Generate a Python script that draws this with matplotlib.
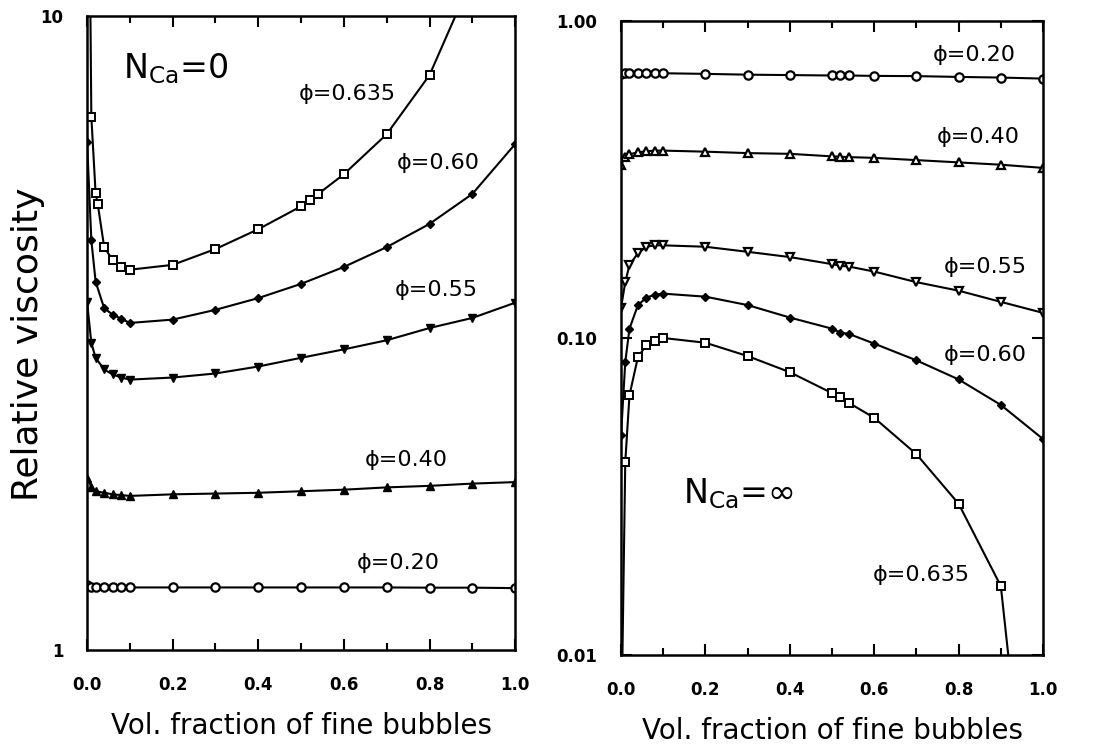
import matplotlib
matplotlib.use('Agg')
from matplotlib import pyplot as plt
from matplotlib.ticker import NullLocator, FixedLocator

# volume fraction of fine bubbles
x_left = [0.0, 0.01, 0.02, 0.04, 0.06, 0.08, 0.10, 0.2, 0.3, 0.4, 0.5, 0.6, 0.7, 0.8, 0.9, 1.0]
x_left_635 = [0.0, 0.01, 0.02, 0.025, 0.04, 0.06, 0.08, 0.10, 0.2, 0.3, 0.4, 0.5, 0.52, 0.54, 0.6, 0.7, 0.8, 0.9]
x_right = [0.0, 0.01, 0.02, 0.04, 0.06, 0.08, 0.10, 0.2, 0.3, 0.4, 0.5, 0.52, 0.54, 0.6, 0.7, 0.8, 0.9, 1.0]
x_right_635 = [0.0, 0.01, 0.02, 0.04, 0.06, 0.08, 0.10, 0.2, 0.3, 0.4, 0.5, 0.52, 0.54, 0.6, 0.7, 0.8, 0.9, 0.95]

# relative viscosity, N_Ca = 0
left_020 = [1.266, 1.258, 1.256, 1.255, 1.255, 1.255, 1.255, 1.255, 1.255, 1.255, 1.255, 1.255, 1.255, 1.254, 1.254, 1.252]
left_040 = [1.87, 1.81, 1.78, 1.77, 1.76, 1.755, 1.75, 1.76, 1.765, 1.77, 1.78, 1.79, 1.805, 1.815, 1.83, 1.84]
left_055 = [3.54, 3.05, 2.89, 2.77, 2.72, 2.69, 2.67, 2.69, 2.73, 2.80, 2.89, 2.98, 3.08, 3.22, 3.34, 3.53]
left_060 = [6.33, 4.43, 3.81, 3.46, 3.38, 3.33, 3.28, 3.32, 3.44, 3.59, 3.78, 4.02, 4.32, 4.70, 5.24, 6.28]
left_0635 = [40.0, 6.93, 5.25, 5.05, 4.32, 4.12, 4.02, 3.98, 4.05, 4.29, 4.61, 5.01, 5.13, 5.24, 5.63, 6.51, 8.07, 11.5]

# relative viscosity, N_Ca = infinity
right_020 = [0.681, 0.684, 0.684, 0.684, 0.684, 0.684, 0.684, 0.681, 0.677, 0.675, 0.673, 0.673, 0.673, 0.671, 0.670, 0.666, 0.663, 0.658]
right_040 = [0.352, 0.372, 0.380, 0.385, 0.388, 0.390, 0.390, 0.387, 0.383, 0.381, 0.374, 0.373, 0.372, 0.370, 0.364, 0.358, 0.352, 0.344]
right_055 = [0.1245, 0.150, 0.170, 0.185, 0.194, 0.196, 0.196, 0.194, 0.187, 0.180, 0.171, 0.169, 0.168, 0.162, 0.150, 0.141, 0.130, 0.120]
right_060 = [0.0494, 0.084, 0.107, 0.127, 0.134, 0.137, 0.138, 0.135, 0.127, 0.116, 0.107, 0.104, 0.103, 0.096, 0.085, 0.074, 0.0615, 0.048]
right_0635 = [0.005, 0.0406, 0.066, 0.087, 0.095, 0.098, 0.100, 0.0966, 0.0877, 0.078, 0.067, 0.065, 0.0624, 0.056, 0.043, 0.030, 0.0165, 0.004]

x_ticks = [0.0, 0.2, 0.4, 0.6, 0.8, 1.0]
x_tick_labels = ['0.0', '0.2', '0.4', '0.6', '0.8', '1.0']
phi_labels = ['\u03d5=0.20', '\u03d5=0.40', '\u03d5=0.55', '\u03d5=0.60', '\u03d5=0.635']

LW = 1.5
TICK_FONT = dict(fontsize=12, fontweight='bold')


def style_axes(ax):
  for sp in ax.spines.values():
    sp.set_linewidth(1.8)
  ax.set_xlim(0.0, 1.0)
  ax.xaxis.set_major_locator(FixedLocator(x_ticks))
  ax.xaxis.set_minor_locator(FixedLocator([0.1, 0.3, 0.5, 0.7, 0.9]))
  ax.set_xticklabels(x_tick_labels, **TICK_FONT)
  ax.tick_params(axis='x', which='major', direction='in', top=True, length=8, width=1.5, pad=19)
  ax.tick_params(axis='x', which='minor', direction='in', top=True, length=5, width=1.5)
  ax.set_xlabel('Vol. fraction of fine bubbles', fontsize=20, labelpad=13)


fig = plt.figure(figsize=(11.09, 7.49), dpi=100)

# ---- N_Ca = 0
ax1 = fig.add_axes([0.0785, 0.1322, 0.386, 0.8464])
ax1.set_yscale('log')
ax1.plot(x_left, left_020, '-o', color='k', lw=LW, ms=6, mfc='white', mew=1.6)
ax1.plot(x_left, left_040, '-^', color='k', lw=LW, ms=6)
ax1.plot(x_left, left_055, '-v', color='k', lw=LW, ms=6)
ax1.plot(x_left, left_060, '-D', color='k', lw=LW, ms=4.5)
ax1.plot(x_left_635, left_0635, '-s', color='k', lw=LW, ms=6, mfc='white', mew=1.4)
ax1.set_ylim(1, 10)
ax1.yaxis.set_major_locator(FixedLocator([1, 10]))
ax1.yaxis.set_minor_locator(NullLocator())
ax1.set_yticklabels(['1', '10'], **TICK_FONT)
ax1.tick_params(axis='y', direction='in', length=0, pad=17)
style_axes(ax1)

ax1.text(0.084, 0.902, r'N$_{\mathrm{Ca}}$=0', transform=ax1.transAxes, fontsize=24, ha='left', va='baseline')
left_pos = [(0.727, 0.137), (0.745, 0.300), (0.815, 0.568), (0.820, 0.768), (0.607, 0.877)]
for (tx, ty), lab in zip(left_pos, phi_labels):
  ax1.text(tx, ty, lab, transform=ax1.transAxes, fontsize=16, ha='center', va='center')

# ---- N_Ca = infinity
ax2 = fig.add_axes([0.560, 0.1255, 0.3805, 0.8465])
ax2.set_yscale('log')
ax2.plot(x_right, right_020, '-o', color='k', lw=LW, ms=6, mfc='white', mew=1.6)
ax2.plot(x_right, right_040, '-^', color='k', lw=LW, ms=6, mfc='white', mew=1.6)
ax2.plot(x_right, right_055, '-v', color='k', lw=LW, ms=6, mfc='white', mew=1.6)
ax2.plot(x_right, right_060, '-D', color='k', lw=LW, ms=4.5)
ax2.plot(x_right_635, right_0635, '-s', color='k', lw=LW, ms=6, mfc='white', mew=1.4)
ax2.set_ylim(0.01, 1.0)
ax2.yaxis.set_major_locator(FixedLocator([0.01, 0.1, 1.0]))
ax2.yaxis.set_minor_locator(NullLocator())
ax2.set_yticklabels(['0.01', '0.10', '1.00'], **TICK_FONT)
ax2.tick_params(axis='y', direction='in', right=True, length=8, width=1.5, pad=17)
style_axes(ax2)

ax2.text(0.147, 0.240, r'N$_{\mathrm{Ca}}$=$\infty$', transform=ax2.transAxes, fontsize=24, ha='left', va='baseline')
right_pos = [(0.836, 0.946), (0.846, 0.817), (0.863, 0.612), (0.863, 0.473), (0.711, 0.126)]
for (tx, ty), lab in zip(right_pos, phi_labels):
  ax2.text(tx, ty, lab, transform=ax2.transAxes, fontsize=16, ha='center', va='center')

fig.text(0.025, 0.54, 'Relative viscosity', rotation=90, fontsize=26, ha='center', va='center')

plt.savefig('out.png', dpi=100)
